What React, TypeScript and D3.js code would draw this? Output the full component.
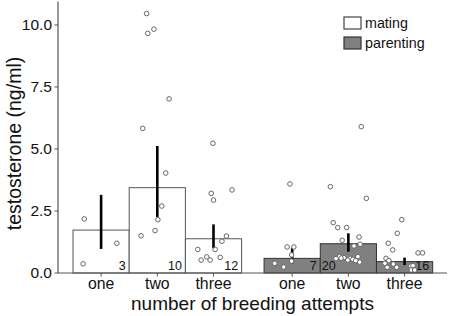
import React from "react";
import * as d3 from "d3";

// ---- data ----
const categories = ["one", "two", "three"];
const phases = ["mating", "parenting"];

const matingMeans = [1.73, 3.44, 1.38];
const matingLower = [0.97, 2.26, 1.0];
const matingUpper = [3.15, 5.12, 1.96];
const matingCounts = [3, 10, 12];

const parentingMeans = [0.59, 1.18, 0.46];
const parentingLower = [0.39, 0.86, 0.32];
const parentingUpper = [1.0, 1.6, 0.62];
const parentingCounts = [7, 20, 16];

// individual values [testosterone, jitter (in bar widths)]
const matingOnePoints = [[2.18, -0.3], [1.2, 0.28], [0.37, -0.32]];
const matingTwoPoints = [
  [1.5, -0.29], [1.71, -0.04], [2.15, 0.01], [2.7, 0.08], [4.03, 0.15],
  [10.46, -0.19], [9.66, -0.17], [9.83, -0.06], [7.02, 0.21], [5.83, -0.26],
];
const matingThreePoints = [
  [5.23, -0.01], [3.21, -0.04], [3.35, 0.33], [2.94, 0.0], [1.49, 0.23], [1.28, 0.15],
  [0.95, -0.28], [0.95, 0.03], [0.65, -0.12], [0.52, -0.22], [0.52, -0.06], [0.63, 0.12],
];
const parentingOnePoints = [
  [3.59, -0.04], [1.05, -0.09], [1.05, 0.03], [0.73, -0.01], [0.48, -0.01], [0.24, -0.15], [0.39, -0.31],
];
const parentingTwoPoints = [
  [3.48, -0.32], [3.01, 0.32], [5.9, 0.23], [2.03, -0.27], [1.83, -0.19], [1.83, -0.03], [1.45, 0.19],
  [1.32, -0.11], [1.16, 0.21], [1.09, 0.1], [0.66, -0.16], [0.58, -0.22], [0.59, 0.03], [0.52, -0.01],
  [0.66, 0.17], [0.44, 0.2], [0.62, -0.08], [0.55, 0.08], [0.6, -0.13], [0.5, 0.13],
];
const parentingThreePoints = [
  [2.15, -0.05], [1.6, -0.13], [1.2, -0.29], [0.93, -0.21], [0.81, 0.24], [0.81, 0.32], [0.59, -0.33],
  [0.39, -0.35], [0.23, -0.31], [0.36, -0.2], [0.23, -0.14], [0.28, 0.11], [0.12, 0.12], [0.12, 0.18],
  [0.3, 0.15], [0.5, -0.28],
];

const yTicks = [0, 2.5, 5, 7.5, 10];
const countAnchors = [["end", "end", "end"], ["end", "start", "end"]];

const W = 454;
const H = 316;
const FONT = "'Liberation Sans', Arial, Helvetica, sans-serif";

export default function App() {
  const x = d3.scaleLinear().domain([0.233, 7.155]).range([58, 447]);
  const y = d3.scaleLinear().domain([0, 10.95]).range([273, 1.4]);
  const groupOffset = [0, 3.4];
  const barW = x(1) - x(0);

  const groups = [
    {
      phase: phases[0], means: matingMeans, lo: matingLower, hi: matingUpper, n: matingCounts,
      pts: [matingOnePoints, matingTwoPoints, matingThreePoints],
      fill: "#ffffff", stroke: "#555555",
    },
    {
      phase: phases[1], means: parentingMeans, lo: parentingLower, hi: parentingUpper, n: parentingCounts,
      pts: [parentingOnePoints, parentingTwoPoints, parentingThreePoints],
      fill: "#808080", stroke: "#333333",
    },
  ];

  const pos = (g: number, i: number) => x(groupOffset[g] + i + 1);

  return (
    <svg width={W} height={H} style={{ position: "absolute", left: 0, top: 0, background: "#fff" }} fontFamily={FONT}>
      {/* bars */}
      {groups.map((g, gi) =>
        g.means.map((m, i) => (
          <rect key={`b${gi}${i}`} x={pos(gi, i) - barW / 2} y={y(m)} width={barW} height={y(0) - y(m)}
            fill={g.fill} stroke={g.stroke} strokeWidth={1} />
        ))
      )}
      {/* counts */}
      {groups.map((g, gi) =>
        g.n.map((n, i) => {
          const a = countAnchors[gi][i];
          const cx = a === "end" ? pos(gi, i) + barW / 2 - 3.5 : pos(gi, i) - barW / 2 + 1.5;
          return (
            <text key={`n${gi}${i}`} x={cx} y={269.5} fontSize={12.5} textAnchor={a} fill="#111">{n}</text>
          );
        })
      )}
      {/* error bars */}
      {groups.map((g, gi) =>
        g.means.map((_, i) => (
          <line key={`e${gi}${i}`} x1={pos(gi, i)} x2={pos(gi, i)} y1={y(g.hi[i])} y2={y(g.lo[i])}
            stroke="#000" strokeWidth={2.6} />
        ))
      )}
      {/* points */}
      {groups.map((g, gi) =>
        g.pts.map((arr, i) =>
          arr.map((p, k) => (
            <circle key={`p${gi}${i}${k}`} cx={pos(gi, i) + p[1] * barW} cy={y(p[0])} r={2.3}
              fill="#fff" stroke="#666" strokeWidth={1} />
          ))
        )
      )}
      {/* axes */}
      <line x1={58} x2={58} y1={y.range()[1]} y2={273} stroke="#555" strokeWidth={1.2} />
      <line x1={58} x2={447} y1={273} y2={273} stroke="#555" strokeWidth={1.2} />
      {yTicks.map((t) => (
        <g key={`yt${t}`}>
          <line x1={54.5} x2={58} y1={y(t)} y2={y(t)} stroke="#555" strokeWidth={1} />
          <text x={52} y={y(t) + 5.3} fontSize={15.5} textAnchor="end" fill="#111">{t.toFixed(1)}</text>
        </g>
      ))}
      {groups.map((_, gi) =>
        categories.map((c, i) => (
          <g key={`xt${gi}${i}`}>
            <line x1={pos(gi, i)} x2={pos(gi, i)} y1={273} y2={276.5} stroke="#555" strokeWidth={1} />
            <text x={pos(gi, i)} y={289} fontSize={15.8} textAnchor="middle" fill="#111">{c}</text>
          </g>
        ))
      )}
      <text x={(58 + 447) / 2} y={310} fontSize={19} textAnchor="middle" fill="#111">number of breeding attempts</text>
      <text transform={`translate(20.5, ${(55 + 232) / 2}) rotate(-90)`} fontSize={19.5} textAnchor="middle" fill="#111">
        testosterone (ng/ml)
      </text>
      {/* legend */}
      {groups.map((g, gi) => (
        <g key={`lg${gi}`}>
          <rect x={344} y={17 + gi * 20} width={17} height={12} fill={g.fill} stroke={gi === 0 ? "#444" : "#333"} strokeWidth={1.2} />
          <text x={365} y={27.5 + gi * 20} fontSize={14.3} fill="#111">{g.phase}</text>
        </g>
      ))}
    </svg>
  );
}
